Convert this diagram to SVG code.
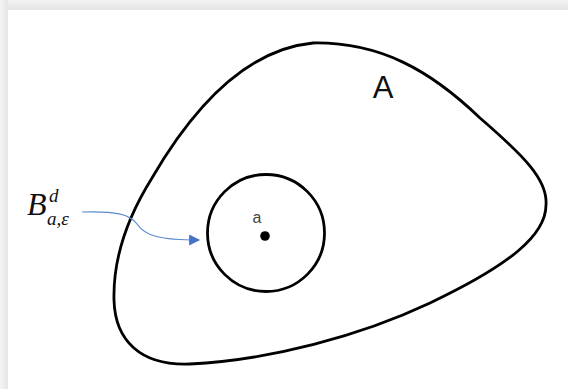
<svg xmlns="http://www.w3.org/2000/svg" width="568" height="389" viewBox="0 0 568 389">
  <defs>
    <linearGradient id="gTop" x1="0" y1="0" x2="0" y2="1">
      <stop offset="0" stop-color="#f2f2f2"/>
      <stop offset="1" stop-color="#e4e4e4"/>
    </linearGradient>
    <linearGradient id="gLeft" x1="0" y1="0" x2="1" y2="0">
      <stop offset="0" stop-color="#f4f4f4"/>
      <stop offset="1" stop-color="#e6e6e6"/>
    </linearGradient>
    <marker id="arrow" viewBox="0 0 10 10" refX="9" refY="5" markerWidth="13" markerHeight="11" markerUnits="userSpaceOnUse" orient="auto">
      <path d="M0,0 L10,5 L0,10 Z" fill="#4472C4"/>
    </marker>
    <style>
      .outline { fill: none; stroke: #000; stroke-width: 2.8; }
      .lbl { font-family: "Liberation Sans", Arial, sans-serif; }
      .math { font-family: "Liberation Serif", "Times New Roman", serif; font-style: italic; fill: #111; }
    </style>
  </defs>
  <rect x="0" y="0" width="568" height="389" fill="#ffffff"/>
  <rect x="0" y="0" width="568" height="10" fill="url(#gTop)"/>
  <rect x="0" y="0" width="8" height="389" fill="url(#gLeft)"/>

  <g id="setA">
    <path class="outline" d="M313,43 C380,42 430,70 480,118 C524,156 548,180 546,205 C546,235 510,265 430,303 C360,336 270,360 190,364 C140,366 115,340 114,300 C113,260 127,218 152,178 C187,118 240,50 313,43 Z"/>
    <text class="lbl" x="383" y="98" font-size="31" text-anchor="middle" fill="#111">A</text>
  </g>

  <g id="ball">
    <circle class="outline" cx="266" cy="233" r="58.5" stroke-width="2.6"/>
    <circle cx="265" cy="236" r="4.8" fill="#000"/>
    <text class="lbl" x="257" y="223" font-size="16" text-anchor="middle" fill="#444">a</text>
  </g>

  <g id="labelB">
    <text class="math" x="27" y="215" font-size="32">B</text>
    <text class="math" x="49" y="202" font-size="19">d</text>
    <text class="math" x="47" y="225" font-size="19">a,ε</text>
  </g>

  <g id="connectors">
    <path d="M82,212 C115,211 130,214 137,224 C145,236 160,240 199,240" fill="none" stroke="#5B8BD0" stroke-width="1.2" marker-end="url(#arrow)"/>
  </g>
</svg>
